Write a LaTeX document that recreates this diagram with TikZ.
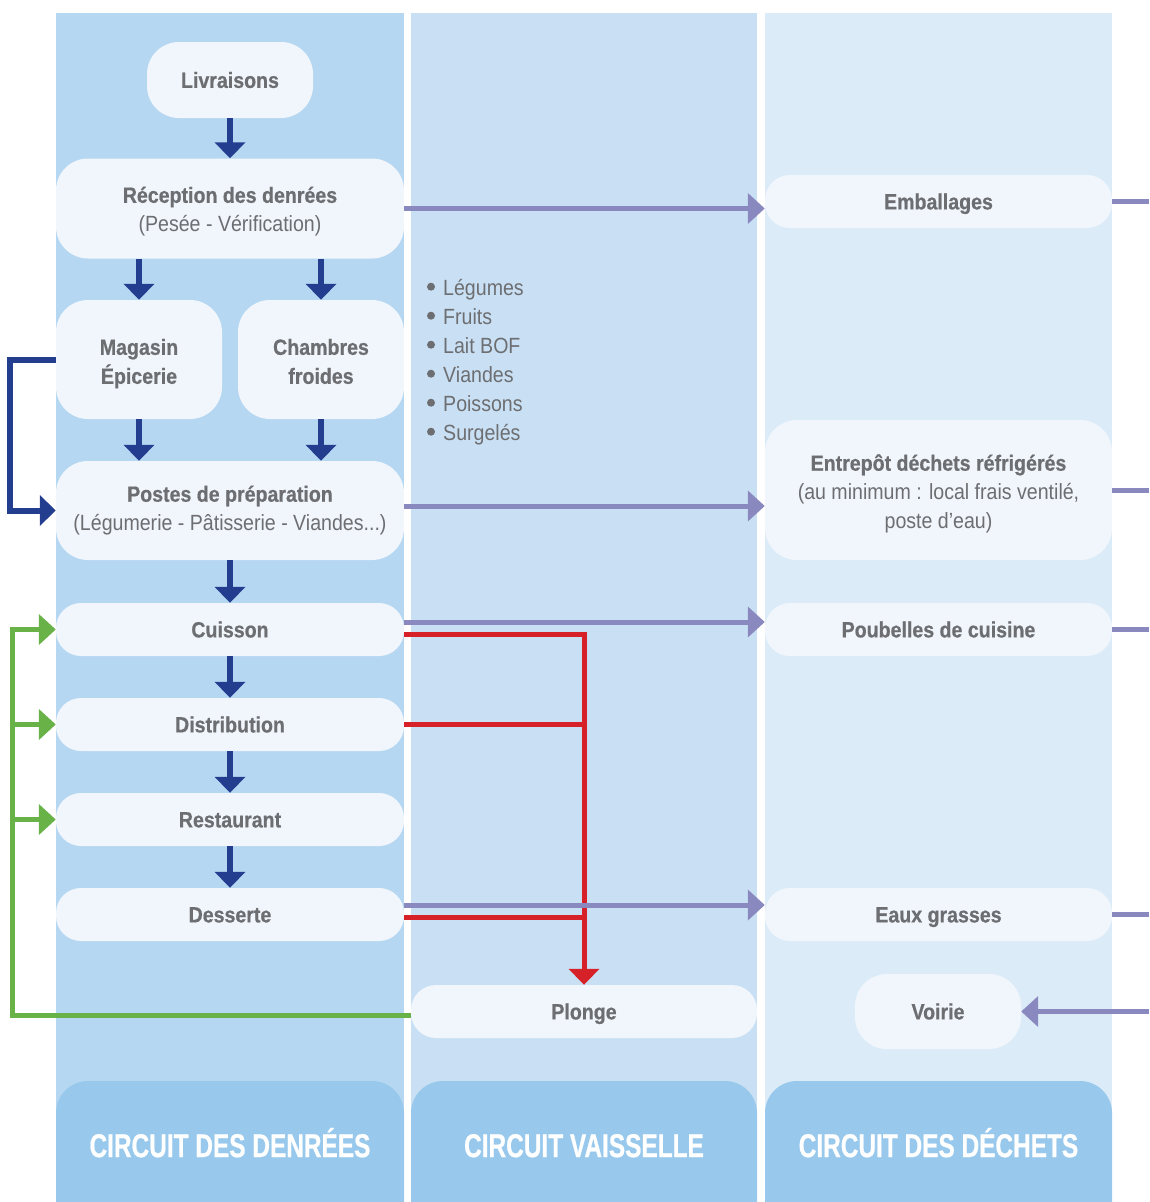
\documentclass[tikz,border=0pt]{standalone}
\usepackage{fontspec}
\setmainfont{Liberation Sans}[FakeStretch=0.89, BoldFeatures={FakeBold=0.6}]
\newfontfamily\hdfont{Liberation Sans}[FakeStretch=0.74, BoldFeatures={FakeBold=0.6}]
\usetikzlibrary{arrows.meta}
\definecolor{colA}{HTML}{B6D7F1}
\definecolor{colB}{HTML}{C9E0F4}
\definecolor{colC}{HTML}{DCEBF8}
\definecolor{hdr}{HTML}{98C9EC}
\definecolor{nodefill}{HTML}{F0F6FC}
\definecolor{txt}{HTML}{6D6E71}
\definecolor{dblue}{HTML}{243E8F}
\definecolor{purp}{HTML}{8A89BF}
\definecolor{redc}{HTML}{D62129}
\definecolor{grnc}{HTML}{68B247}
\newcommand{\fln}[2]{\raisebox{0pt}[#1][0pt]{#2}}
\newcommand{\lln}[1]{\raisebox{0pt}[\height][0pt]{#1}}
\begin{document}
\begin{tikzpicture}[x=1pt,y=-1pt,
  box/.style={fill=nodefill, rounded corners=25pt, minimum width=348pt, minimum height=53pt,
    inner sep=0pt, text=txt, font=\fontsize{22}{29}\selectfont, align=center},
  one/.style={box, text height=15.75pt, text depth=0pt},
  bigbox/.style={box, rounded corners=32pt},
  bigone/.style={one, rounded corners=32pt},
  hdbox/.style={fill=hdr, rounded corners=32pt},
  hdtext/.style={text=white, font=\hdfont\bfseries\fontsize{33}{33}\selectfont, inner sep=0pt,
    text height=23.6pt, text depth=0pt},
  bul/.style={text=txt, font=\fontsize{22}{29}\selectfont, anchor=base west, inner sep=0pt},
  blu/.style={draw=dblue, line width=6pt, -{Triangle[width=30pt,length=16pt]}},
  pur/.style={draw=purp, line width=5pt},
  purarr/.style={pur, -{Triangle[width=30pt,length=17pt]}},
  redl/.style={draw=redc, line width=5pt},
  redarr/.style={redl, -{Triangle[width=30pt,length=16pt]}},
  grn/.style={draw=grnc, line width=5pt},
  grnarr/.style={grn, -{Triangle[width=30pt,length=17pt]}}
]
\useasboundingbox (0,0) rectangle (1149,1202);
\clip (0,0) rectangle (1149,1202);
% columns
\fill[colA] (56,13) rectangle (404,1202);
\fill[colB] (411,13) rectangle (757,1202);
\fill[colC] (765,13) rectangle (1112,1202);
% headers
\fill[hdbox] (56,1081) rectangle (404,1240);
\fill[hdbox] (411,1081) rectangle (757,1240);
\fill[hdbox] (765,1081) rectangle (1112,1240);
\node[hdtext] (h1) at (230,1145.3) {CIRCUIT DES DENRÉES};
\node[hdtext] (h2) at (584,1145.3) {CIRCUIT VAISSELLE};
\node[hdtext] (h3) at (938.5,1145.3) {CIRCUIT DES DÉCHETS};
% helper coordinates
\coordinate (edge) at (1149,0);
\coordinate (gx) at (12,0);
\coordinate (lx) at (10,0);
% nodes
\node[bigone, minimum width=166pt, minimum height=76pt] (liv) at (230,80) {\bfseries Livraisons};
\node[bigbox, minimum height=100pt] (rec) at (230,208.5)
  {\fln{17.6pt}{\bfseries Réception des denrées}\\\lln{(Pesée - Vérification)}};
\node[bigbox, minimum width=166pt, minimum height=119pt] (mag) at (139,359.5)
  {\fln{19.6pt}{\bfseries Magasin}\\\lln{\bfseries Épicerie}};
\node[bigbox, minimum width=166pt, minimum height=119pt] (cha) at (321,359.5)
  {\fln{19.6pt}{\bfseries Chambres}\\\lln{\bfseries froides}};
\node[bigbox, minimum height=99pt] (pos) at (230,510.5)
  {\fln{11.4pt}{\bfseries Postes de préparation}\\\lln{(Légumerie - Pâtisserie - Viandes...)}};
\node[one] (cui) at (230,629.5) {\bfseries Cuisson};
\node[one] (dis) at (230,724.5) {\bfseries Distribution};
\node[one] (res) at (230,819.5) {\bfseries Restaurant};
\node[one] (des) at (230,914.5) {\bfseries Desserte};
\node[one, minimum width=346pt] (plo) at (584,1011.5) {\bfseries Plonge};
\node[one, minimum width=347pt] (emb) at (938.5,201.5) {\bfseries Emballages};
\node[bigbox, minimum width=347pt, minimum height=140pt] (ent) at (938.5,490)
  {\fln{19.4pt}{\bfseries Entrepôt déchets réfrigérés}\\(au minimum : local frais ventilé,\\\lln{poste d’eau)}};
\node[one, minimum width=347pt] (pou) at (938.5,629.5) {\bfseries Poubelles de cuisine};
\node[one, minimum width=347pt] (eau) at (938.5,914.5) {\bfseries Eaux grasses};
\node[bigone, minimum width=166pt, minimum height=75pt] (voi) at (938,1011.5) {\bfseries Voirie};
% bullet list
\foreach \t [count=\i] in {Légumes, Fruits, Lait BOF, Viandes, Poissons, Surgelés}{
  \fill[txt] (431,{286.7+29*(\i-1)}) circle[radius=4pt];
  \node[bul, name=b\i] at (443,{295+29*(\i-1)}) {\t};
}
% blue arrows
\draw[blu] (liv) -- (rec);
\draw[blu] (mag.north |- rec.south) -- (mag.north);
\draw[blu] (cha.north |- rec.south) -- (cha.north);
\draw[blu] (mag.south) -- (mag.south |- pos.north);
\draw[blu] (cha.south) -- (cha.south |- pos.north);
\draw[blu] (pos) -- (cui);
\draw[blu] (cui) -- (dis);
\draw[blu] (dis) -- (res);
\draw[blu] (res) -- (des);
\draw[blu] (mag.west) -- (lx |- mag.west) -- (lx |- pos.west) -- (pos.west);
% red
\draw[redarr] ([yshift=-4.5pt]cui.east) -| (plo.north);
\draw[redl] (dis.east) -- (dis.east -| plo.north);
\draw[redl] ([yshift=-2.5pt]des.east) -- ([yshift=-2.5pt]des.east -| plo.north);
% purple
\draw[purarr] (rec.east) -- (rec.east -| emb.west);
\draw[purarr] ([yshift=4.5pt]pos.east) -- ([yshift=4.5pt]pos.east -| ent.west);
\draw[purarr] ([yshift=7.5pt]cui.east) -- ([yshift=7.5pt]cui.east -| pou.west);
\draw[purarr] ([yshift=9.5pt]des.east) -- ([yshift=9.5pt]des.east -| eau.west);
\draw[pur] (emb.east) -- (emb.east -| edge);
\draw[pur] (ent.east) -- (ent.east -| edge);
\draw[pur] (pou.east) -- (pou.east -| edge);
\draw[pur] (eau.east) -- (eau.east -| edge);
\draw[purarr] (voi.east -| edge) -- (voi.east);
% green
\draw[grnarr] ([yshift=-3.5pt]plo.west) -| (gx |- cui.west) -- (cui.west);
\draw[grnarr] (gx |- dis.west) -- (dis.west);
\draw[grnarr] (gx |- res.west) -- (res.west);
\end{tikzpicture}
\end{document}
